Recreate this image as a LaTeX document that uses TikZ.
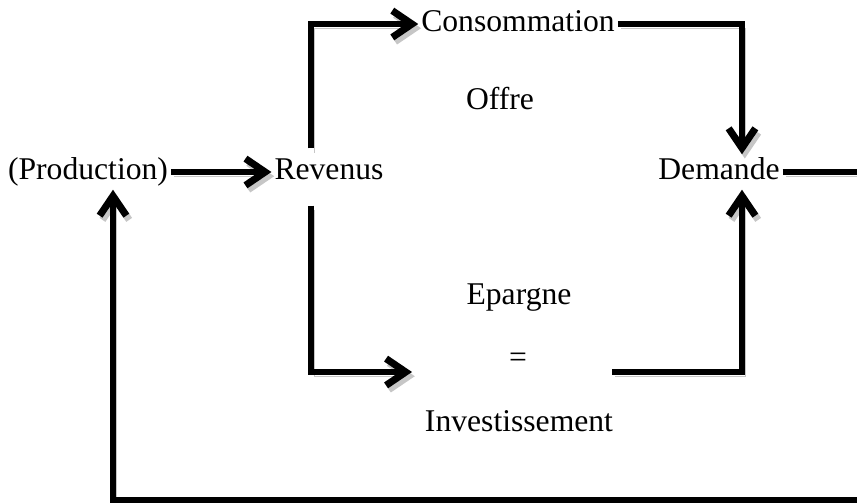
\documentclass[tikz,border=0pt]{standalone}
\usepackage{fontspec}
\setmainfont{Liberation Serif}
\usetikzlibrary{arrows.meta,calc}
\tikzset{
  poste/.style   ={inner sep=2pt, font=\fontsize{22.5}{27}\selectfont,
    text height=15.8pt, text depth=5pt},
  liaison/.style ={line width=4.2pt,
    preaction={draw=gray!45, transform canvas={xshift=2pt, yshift=-3pt}}},
  flux/.style    ={liaison,
    -{Straight Barb[length=14pt, width=19pt, line width=5pt, sharp]}}}

\begin{document}
\begin{tikzpicture}[x=0.025cm, y=-0.025cm]
\useasboundingbox (0,0) rectangle (857,502);

% Postes du circuit
\node[poste] (prod)  at (88,172)  {(Production)};
\node[poste] (rev)   at (329,172) {Revenus};
\node[poste] (dem)   at (719,172) {Demande};
\node[poste] (cons)  at (518,24)  {Consommation};
\node[poste] (offre) at (500,102) {Offre};
\node[poste] (epar)  at (519,297) {Epargne};
\node[poste] (egal)  at (518,360) {=};
\node[poste] (inv)   at (519,424) {Investissement};

% Bouts libres
\coordinate (epar-g) at ($(egal)+(-106,12)$);
\coordinate (epar-d) at ($(egal)+(94,12)$);
\coordinate (sortie) at (857,172);
\coordinate (retour) at (857,500);

% Production -> Revenus
\draw[flux] (prod) -- (rev);

% Revenus -> Consommation -> Demande
\draw[flux] ($(rev.north)+(-18,-6)$) |- (cons.west);
\draw[flux] (cons.east) -| ($(dem.north)+(23,0)$);

% Revenus -> Epargne = Investissement -> Demande
\draw[flux] ($(rev.south)+(-18,16)$) |- (epar-g);
\draw[flux] (epar-d) -| ($(dem.south)+(23,0)$);

% Demande -> retour vers Production
\draw[liaison] (dem.east) -- (sortie);
\draw[flux] (retour) -| ($(prod.south)+(25,0)$);
\end{tikzpicture}
\end{document}
